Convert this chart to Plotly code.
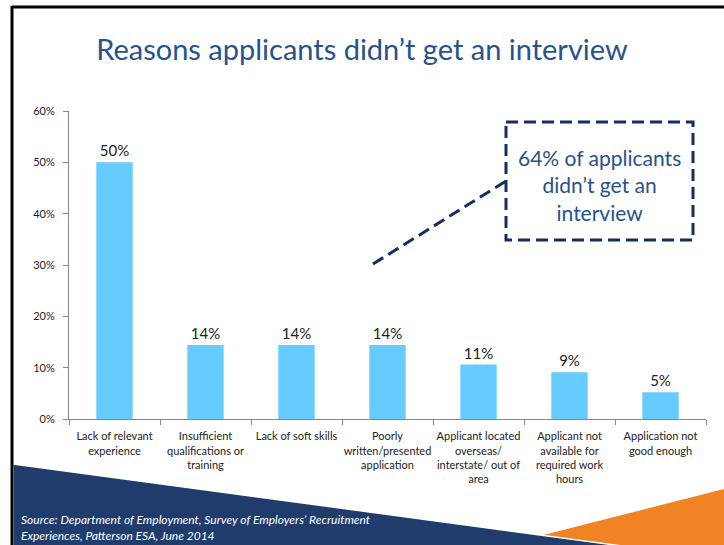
import plotly.graph_objects as go

# Chart data
categories = [
    "Lack of relevant experience",
    "Insufficient qualifications or training",
    "Lack of soft skills",
    "Poorly written/presented application",
    "Applicant located overseas/ interstate/ out of area",
    "Applicant not available for required work hours",
    "Application not good enough",
]
tick_labels = [
    "Lack of relevant<br>experience",
    "Insufficient<br>qualifications or<br>training",
    "Lack of soft skills",
    "Poorly<br>written/presented<br>application",
    "Applicant located<br>overseas/<br>interstate/ out of<br>area",
    "Applicant not<br>available for<br>required work<br>hours",
    "Application not<br>good enough",
]
shares = [0.50, 0.144, 0.144, 0.144, 0.106, 0.091, 0.052]

title_text = "Reasons applicants didn\u2019t get an interview"
callout_text = "64% of applicants<br>didn\u2019t get an<br>interview"
source_text = ("Source: Department of Employment, Survey of Employers\u2019 Recruitment<br>"
               "Experiences, Patterson ESA, June 2014")

W, H = 724, 545
L, R, T, B = 69, 18, 111, 126
PW, PH = W - L - R, H - T - B


def px(x):
    return (x - L) / PW


def py(y):
    return (H - B - y) / PH


def poly(points):
    return "M " + " L ".join(f"{px(x):.5f},{py(y):.5f}" for x, y in points) + " Z"


FONT = "Lato"
TITLE_BLUE = "#27528C"
NAVY = "#1F3C6C"
DASH_NAVY = "#132E62"

fig = go.Figure(
    go.Bar(
        x=categories,
        y=shares,
        marker=dict(color="#66CCFF", line=dict(width=0)),
        texttemplate="%{y:.0%}",
        textposition="outside",
        textfont=dict(size=15, color="#222222", family=FONT),
        cliponaxis=False,
        width=0.4,
    )
)

shapes = [
    # orange wedge, bottom right
    dict(type="path", xref="paper", yref="paper", layer="below",
         path=poly([(504, 545), (724, 489), (724, 545)]),
         fillcolor="#F08323", line=dict(width=0)),
    # navy band, bottom left
    dict(type="path", xref="paper", yref="paper", layer="below",
         path=poly([(13, 464), (622, 546), (13, 546)]),
         fillcolor=NAVY, line=dict(width=1.5, color="white")),
    # slide frame
    dict(type="line", xref="paper", yref="paper",
         x0=px(12), x1=px(724), y0=py(7), y1=py(7),
         line=dict(color="black", width=3)),
    dict(type="line", xref="paper", yref="paper",
         x0=px(12), x1=px(12), y0=py(6), y1=py(545),
         line=dict(color="black", width=3)),
    # callout box and leader line
    dict(type="rect", xref="paper", yref="paper",
         x0=px(506), x1=px(693), y0=py(122), y1=py(240),
         line=dict(color=DASH_NAVY, width=3, dash="12px,6px")),
    dict(type="line", xref="paper", yref="paper",
         x0=px(373), y0=py(264), x1=px(506), y1=py(181),
         line=dict(color=DASH_NAVY, width=3, dash="12px,6px")),
]

annotations = [
    dict(xref="paper", yref="paper", x=px(599), y=py(185),
         xanchor="center", yanchor="middle",
         text=callout_text, showarrow=False, align="center",
         font=dict(family=FONT, size=21, color=TITLE_BLUE)),
    dict(xref="paper", yref="paper", x=px(19), y=py(527),
         xanchor="left", yanchor="middle", align="left",
         text=f"<i>{source_text}</i>", showarrow=False,
         font=dict(family=FONT, size=12, color="white")),
]

fig.update_layout(
    width=W, height=H,
    margin=dict(l=L, r=R, t=T, b=B, autoexpand=False),
    paper_bgcolor="white",
    plot_bgcolor="white",
    showlegend=False,
    title=dict(text=title_text, x=0.5, xref="container", xanchor="center",
               y=1 - 50 / H, yref="container", yanchor="middle",
               font=dict(family=FONT, size=29, color=TITLE_BLUE)),
    font=dict(family=FONT, color="#222222"),
    shapes=shapes,
    annotations=annotations,
    bargap=0.6,
)

fig.update_xaxes(
    type="category",
    range=[-0.5, len(categories) - 0.5],
    tickmode="array", tickvals=categories, ticktext=tick_labels,
    tickangle=0, automargin=False, ticklabelstandoff=7,
    tickson="boundaries", ticks="outside", ticklen=5, tickcolor="#888888",
    showline=True, linecolor="#888888", linewidth=1,
    tickfont=dict(size=11, color="#222222", family=FONT),
    showgrid=False,
)
fig.update_yaxes(
    range=[0, 0.6], dtick=0.1, tickformat=".0%",
    automargin=False, ticklabelstandoff=6,
    ticks="outside", ticklen=5, tickcolor="#888888",
    showline=True, linecolor="#888888", linewidth=1,
    tickfont=dict(size=11, color="#222222", family=FONT),
    showgrid=False, zeroline=False,
)

fig.write_html("out.html")
